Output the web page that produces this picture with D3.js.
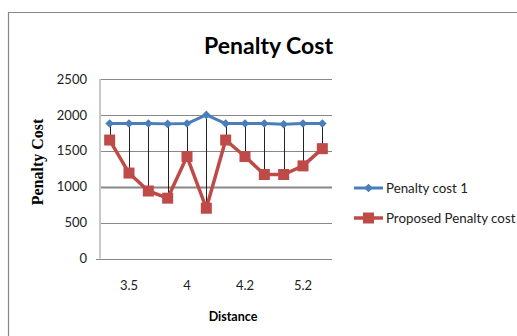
<!DOCTYPE html>
<html>
<head>
<meta charset="utf-8">
<script src="https://cdn.jsdelivr.net/npm/d3@7"></script>
<style>
  html, body { margin: 0; padding: 0; background: #fff; }
  svg { display: block; }
  text { font-family: Lato, "Open Sans", sans-serif; fill: #000; }
</style>
</head>
<body>
<svg id="chart" width="517" height="336"></svg>
<script>
// Category slots along the distance axis (only every third one carries a label)
const categories = [1, 2, 3, 4, 5, 6, 7, 8, 9, 10, 11, 12];
const tickLabels = ["", "3.5", "", "", "4", "", "", "4.2", "", "", "5.2", ""];

// Series values
const penaltyCost1 = [1880, 1880, 1880, 1875, 1880, 2000, 1880, 1880, 1880, 1870, 1880, 1880];
const proposedPenaltyCost = [1650, 1190, 940, 840, 1420, 700, 1650, 1420, 1170, 1170, 1290, 1530];

const yTicks = [0, 500, 1000, 1500, 2000, 2500];
const seriesNames = ["Penalty cost 1", "Proposed Penalty cost"];

const svg = d3.select("#chart");
const BLUE = "#4A7EBB", RED = "#BE4B48";

// Chart frame (top and left edges)
svg.append("path")
  .attr("d", "M8.5,336 V12.5 H517")
  .attr("fill", "none").attr("stroke", "#878787").attr("stroke-width", 1.2);

const plot = { left: 100, right: 332, top: 79, bottom: 258.5 };

const x = d3.scaleBand().domain(categories).range([plot.left, plot.right]).padding(0);
const cx = d => x(d) + x.bandwidth() / 2;
const y = d3.scaleLinear().domain([0, 2500]).range([plot.bottom, plot.top]);

// Horizontal gridlines
svg.append("g").selectAll("line").data(yTicks.filter(t => t > 0)).join("line")
  .attr("x1", plot.left).attr("x2", plot.right)
  .attr("y1", d => Math.round(y(d)) + 0.5).attr("y2", d => Math.round(y(d)) + 0.5)
  .attr("stroke", "#888").attr("stroke-width", d => d === 1000 ? 1.8 : 1);

// Value axis (left) and category axis (bottom)
svg.append("line")
  .attr("x1", plot.left).attr("x2", plot.left)
  .attr("y1", plot.top).attr("y2", plot.bottom)
  .attr("stroke", "#c8c8c8").attr("stroke-width", 2);
svg.append("line")
  .attr("x1", plot.left - 4).attr("x2", plot.right)
  .attr("y1", Math.round(y(0)) + 0.5).attr("y2", Math.round(y(0)) + 0.5)
  .attr("stroke", "#878787").attr("stroke-width", 1.2);

// Y tick labels
svg.append("g").selectAll("text").data(yTicks).join("text")
  .attr("x", 87).attr("y", d => y(d))
  .attr("dy", "0.36em").attr("text-anchor", "end")
  .style("font-size", "13px").style("fill", "#222")
  .text(d => d);

// X tick labels
svg.append("g").selectAll("text").data(categories.filter((c, i) => tickLabels[i] !== "")).join("text")
  .attr("x", d => cx(d)).attr("y", 285)
  .attr("dy", "0.36em").attr("text-anchor", "middle")
  .style("font-size", "13px").style("fill", "#222")
  .text(d => tickLabels[categories.indexOf(d)]);

// High-low lines between the two series
svg.append("g").selectAll("line").data(categories).join("line")
  .attr("x1", d => Math.round(cx(d)) + 0.5).attr("x2", d => Math.round(cx(d)) + 0.5)
  .attr("y1", (d, i) => y(Math.max(penaltyCost1[i], proposedPenaltyCost[i])))
  .attr("y2", (d, i) => y(Math.min(penaltyCost1[i], proposedPenaltyCost[i])))
  .attr("stroke", "#222").attr("stroke-width", 1);

const line = d3.line().x((d, i) => cx(categories[i])).y(d => y(d));

// Series 1: blue line with diamonds
svg.append("path").datum(penaltyCost1)
  .attr("d", line).attr("fill", "none")
  .attr("stroke", BLUE).attr("stroke-width", 3).attr("stroke-linejoin", "round");
const diamond = d3.symbol().type(d3.symbolDiamond2).size(48);
svg.append("g").selectAll("path").data(penaltyCost1).join("path")
  .attr("transform", (d, i) => `translate(${cx(categories[i])},${y(d)})`)
  .attr("d", diamond).attr("fill", BLUE);

// Series 2: red line with squares
svg.append("path").datum(proposedPenaltyCost)
  .attr("d", line).attr("fill", "none")
  .attr("stroke", RED).attr("stroke-width", 3.5).attr("stroke-linejoin", "round");
svg.append("g").selectAll("rect").data(proposedPenaltyCost).join("rect")
  .attr("x", (d, i) => cx(categories[i]) - 5.5).attr("y", d => y(d) - 5.5)
  .attr("width", 11).attr("height", 11).attr("fill", RED);

// Titles
svg.append("text").attr("x", 268.5).attr("y", 54).attr("text-anchor", "middle")
  .style("font-size", "23px").style("font-weight", "bold")
  .text("Penalty Cost");
svg.append("text").attr("x", 233).attr("y", 316).attr("dy", "0.36em").attr("text-anchor", "middle")
  .style("font-size", "12.5px").style("font-weight", "bold")
  .text("Distance");
svg.append("text")
  .attr("transform", "translate(43,162) rotate(-90)")
  .attr("text-anchor", "middle")
  .style("font-family", "'Liberation Serif', 'DejaVu Serif', serif")
  .style("font-size", "16px").style("font-weight", "bold")
  .text("Penalty Cost");

// Legend
const legend = svg.append("g");
const legendRows = [
  { name: seriesNames[0], color: BLUE, y: 188, marker: "diamond" },
  { name: seriesNames[1], color: RED, y: 218, marker: "square" }
];
legendRows.forEach(r => {
  legend.append("line").attr("x1", 354).attr("x2", 383).attr("y1", r.y).attr("y2", r.y)
    .attr("stroke", r.color).attr("stroke-width", r.marker === "square" ? 3.5 : 3);
  if (r.marker === "diamond") {
    legend.append("path").attr("transform", `translate(368.5,${r.y})`)
      .attr("d", diamond).attr("fill", r.color);
  } else {
    legend.append("rect").attr("x", 363).attr("y", r.y - 5.5)
      .attr("width", 11).attr("height", 11).attr("fill", r.color);
  }
  legend.append("text").attr("x", 386).attr("y", r.y).attr("dy", "0.36em")
    .style("font-size", "13.3px").style("fill", "#222").text(r.name);
});
</script>
</body>
</html>
